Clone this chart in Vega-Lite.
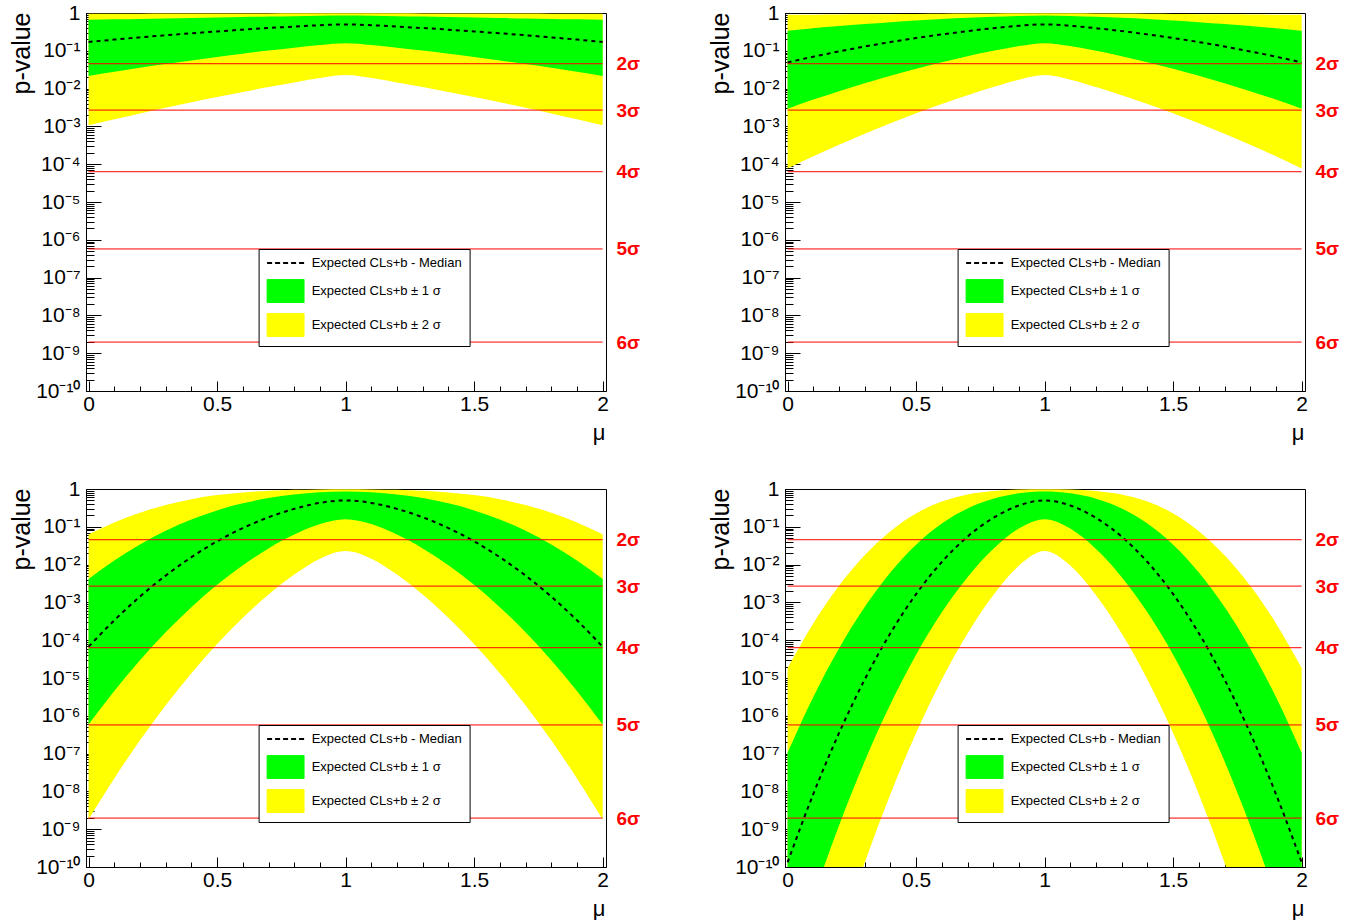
{
  "$schema": "https://vega.github.io/schema/vega-lite/v6.json",
  "background": "white",
  "padding": {"left": 8, "top": 1, "right": 0, "bottom": 0},
  "datasets": {
    "bands": [
      {"panel":1,"mu":0.0,"lo2":0.001065,"lo1":0.0217,"med":0.1711,"hi1":0.666,"hi2":0.9615},
      {"panel":1,"mu":0.1,"lo2":0.00154,"lo1":0.0278,"med":0.1976,"hi1":0.681,"hi2":0.961},
      {"panel":1,"mu":0.2,"lo2":0.0022,"lo1":0.0354,"med":0.2265,"hi1":0.699,"hi2":0.962},
      {"panel":1,"mu":0.3,"lo2":0.00311,"lo1":0.0446,"med":0.2576,"hi1":0.717,"hi2":0.963},
      {"panel":1,"mu":0.4,"lo2":0.00434,"lo1":0.0555,"med":0.2907,"hi1":0.737,"hi2":0.965},
      {"panel":1,"mu":0.5,"lo2":0.00599,"lo1":0.0686,"med":0.3256,"hi1":0.759,"hi2":0.968},
      {"panel":1,"mu":0.6,"lo2":0.00817,"lo1":0.0838,"med":0.3622,"hi1":0.78,"hi2":0.972},
      {"panel":1,"mu":0.7,"lo2":0.011,"lo1":0.1014,"med":0.3998,"hi1":0.803,"hi2":0.975},
      {"panel":1,"mu":0.8,"lo2":0.01461,"lo1":0.1212,"med":0.4379,"hi1":0.825,"hi2":0.979},
      {"panel":1,"mu":0.9,"lo2":0.019,"lo1":0.1429,"med":0.4754,"hi1":0.846,"hi2":0.983},
      {"panel":1,"mu":1.0,"lo2":0.02275,"lo1":0.1587,"med":0.5,"hi1":0.86,"hi2":0.985},
      {"panel":1,"mu":1.1,"lo2":0.019,"lo1":0.1429,"med":0.4754,"hi1":0.846,"hi2":0.983},
      {"panel":1,"mu":1.2,"lo2":0.01461,"lo1":0.1212,"med":0.4379,"hi1":0.825,"hi2":0.979},
      {"panel":1,"mu":1.3,"lo2":0.011,"lo1":0.1014,"med":0.3998,"hi1":0.803,"hi2":0.975},
      {"panel":1,"mu":1.4,"lo2":0.00817,"lo1":0.0838,"med":0.3622,"hi1":0.78,"hi2":0.972},
      {"panel":1,"mu":1.5,"lo2":0.00599,"lo1":0.0686,"med":0.3256,"hi1":0.759,"hi2":0.968},
      {"panel":1,"mu":1.6,"lo2":0.00434,"lo1":0.0555,"med":0.2907,"hi1":0.737,"hi2":0.965},
      {"panel":1,"mu":1.7,"lo2":0.00311,"lo1":0.0446,"med":0.2576,"hi1":0.717,"hi2":0.963},
      {"panel":1,"mu":1.8,"lo2":0.0022,"lo1":0.0354,"med":0.2265,"hi1":0.699,"hi2":0.962},
      {"panel":1,"mu":1.9,"lo2":0.00154,"lo1":0.0278,"med":0.1976,"hi1":0.681,"hi2":0.961},
      {"panel":1,"mu":2.0,"lo2":0.001065,"lo1":0.0217,"med":0.1711,"hi1":0.666,"hi2":0.9615},

      {"panel":2,"mu":0.0,"lo2":7.74e-5,"lo1":0.00295,"med":0.0494,"hi1":0.3399,"hi2":0.8972},
      {"panel":2,"mu":0.1,"lo2":1.62e-4,"lo1":0.00511,"med":0.0699,"hi1":0.3942,"hi2":0.9031},
      {"panel":2,"mu":0.2,"lo2":3.28e-4,"lo1":0.00857,"med":0.0962,"hi1":0.4518,"hi2":0.9106},
      {"panel":2,"mu":0.3,"lo2":6.4e-4,"lo1":0.01391,"med":0.1297,"hi1":0.5117,"hi2":0.9204},
      {"panel":2,"mu":0.4,"lo2":0.00121,"lo1":0.022,"med":0.1702,"hi1":0.5725,"hi2":0.9311},
      {"panel":2,"mu":0.5,"lo2":0.00222,"lo1":0.0337,"med":0.2177,"hi1":0.6326,"hi2":0.9424},
      {"panel":2,"mu":0.6,"lo2":0.00391,"lo1":0.05,"med":0.272,"hi1":0.691,"hi2":0.9537},
      {"panel":2,"mu":0.7,"lo2":0.00669,"lo1":0.0718,"med":0.3322,"hi1":0.7451,"hi2":0.9643},
      {"panel":2,"mu":0.8,"lo2":0.011,"lo1":0.0997,"med":0.396,"hi1":0.7943,"hi2":0.9734},
      {"panel":2,"mu":0.9,"lo2":0.01722,"lo1":0.1333,"med":0.4595,"hi1":0.8365,"hi2":0.981},
      {"panel":2,"mu":1.0,"lo2":0.02275,"lo1":0.1587,"med":0.5,"hi1":0.86,"hi2":0.985},
      {"panel":2,"mu":1.1,"lo2":0.01722,"lo1":0.1333,"med":0.4595,"hi1":0.8365,"hi2":0.981},
      {"panel":2,"mu":1.2,"lo2":0.011,"lo1":0.0997,"med":0.396,"hi1":0.7943,"hi2":0.9734},
      {"panel":2,"mu":1.3,"lo2":0.00669,"lo1":0.0718,"med":0.3322,"hi1":0.7451,"hi2":0.9643},
      {"panel":2,"mu":1.4,"lo2":0.00391,"lo1":0.05,"med":0.272,"hi1":0.691,"hi2":0.9537},
      {"panel":2,"mu":1.5,"lo2":0.00222,"lo1":0.0337,"med":0.2177,"hi1":0.6326,"hi2":0.9424},
      {"panel":2,"mu":1.6,"lo2":0.00121,"lo1":0.022,"med":0.1702,"hi1":0.5725,"hi2":0.9311},
      {"panel":2,"mu":1.7,"lo2":6.4e-4,"lo1":0.01391,"med":0.1297,"hi1":0.5117,"hi2":0.9204},
      {"panel":2,"mu":1.8,"lo2":3.28e-4,"lo1":0.00857,"med":0.0962,"hi1":0.4518,"hi2":0.9106},
      {"panel":2,"mu":1.9,"lo2":1.62e-4,"lo1":0.00511,"med":0.0699,"hi1":0.3942,"hi2":0.9031},
      {"panel":2,"mu":2.0,"lo2":7.74e-5,"lo1":0.00295,"med":0.0494,"hi1":0.3399,"hi2":0.8972},

      {"panel":3,"mu":0.0,"lo2":1.82e-9,"lo1":5.89e-7,"med":6.69e-5,"hi1":0.00415,"hi2":0.0633},
      {"panel":3,"mu":0.1,"lo2":2.21e-8,"lo1":4.55e-6,"med":3.36e-4,"hi1":0.01282,"hi2":0.1309},
      {"panel":3,"mu":0.2,"lo2":2.24e-7,"lo1":2.96e-5,"med":0.001424,"hi1":0.0342,"hi2":0.2367},
      {"panel":3,"mu":0.3,"lo2":1.89e-6,"lo1":1.62e-4,"med":0.00512,"hi1":0.0784,"hi2":0.3772},
      {"panel":3,"mu":0.4,"lo2":1.33e-5,"lo1":7.47e-4,"med":0.01569,"hi1":0.156,"hi2":0.536},
      {"panel":3,"mu":0.5,"lo2":7.9e-5,"lo1":0.00291,"med":0.0413,"hi1":0.2718,"hi2":0.6887},
      {"panel":3,"mu":0.6,"lo2":3.91e-4,"lo1":0.00955,"med":0.0925,"hi1":0.418,"hi2":0.8134},
      {"panel":3,"mu":0.7,"lo2":0.00161,"lo1":0.0267,"med":0.1785,"hi1":0.5746,"hi2":0.9003},
      {"panel":3,"mu":0.8,"lo2":0.00544,"lo1":0.0622,"med":0.2981,"hi1":0.7153,"hi2":0.9517},
      {"panel":3,"mu":0.9,"lo2":0.01432,"lo1":0.1184,"med":0.4286,"hi1":0.8184,"hi2":0.9774},
      {"panel":3,"mu":1.0,"lo2":0.02275,"lo1":0.1587,"med":0.5,"hi1":0.86,"hi2":0.985},
      {"panel":3,"mu":1.1,"lo2":0.01432,"lo1":0.1184,"med":0.4286,"hi1":0.8184,"hi2":0.9774},
      {"panel":3,"mu":1.2,"lo2":0.00544,"lo1":0.0622,"med":0.2981,"hi1":0.7153,"hi2":0.9517},
      {"panel":3,"mu":1.3,"lo2":0.00161,"lo1":0.0267,"med":0.1785,"hi1":0.5746,"hi2":0.9003},
      {"panel":3,"mu":1.4,"lo2":3.91e-4,"lo1":0.00955,"med":0.0925,"hi1":0.418,"hi2":0.8134},
      {"panel":3,"mu":1.5,"lo2":7.9e-5,"lo1":0.00291,"med":0.0413,"hi1":0.2718,"hi2":0.6887},
      {"panel":3,"mu":1.6,"lo2":1.33e-5,"lo1":7.47e-4,"med":0.01569,"hi1":0.156,"hi2":0.536},
      {"panel":3,"mu":1.7,"lo2":1.89e-6,"lo1":1.62e-4,"med":0.00512,"hi1":0.0784,"hi2":0.3772},
      {"panel":3,"mu":1.8,"lo2":2.24e-7,"lo1":2.96e-5,"med":0.001424,"hi1":0.0342,"hi2":0.2367},
      {"panel":3,"mu":1.9,"lo2":2.21e-8,"lo1":4.55e-6,"med":3.36e-4,"hi1":0.01282,"hi2":0.1309},
      {"panel":3,"mu":2.0,"lo2":1.82e-9,"lo1":5.89e-7,"med":6.69e-5,"hi1":0.00415,"hi2":0.0633},

      {"panel":4,"mu":0.0,"lo2":3e-17,"lo1":1.25e-13,"med":1.32e-10,"hi1":1.06e-7,"hi2":1.83e-5},
      {"panel":4,"mu":0.1,"lo2":7e-15,"lo1":1.56e-11,"med":8.47e-9,"hi1":3.16e-6,"hi2":2.78e-4},
      {"panel":4,"mu":0.2,"lo2":1.25e-12,"lo1":1.24e-9,"med":3.47e-7,"hi1":6.07e-5,"hi2":0.002746},
      {"panel":4,"mu":0.3,"lo2":1.3e-10,"lo1":6.24e-8,"med":9.08e-6,"hi1":7.58e-4,"hi2":0.01776},
      {"panel":4,"mu":0.4,"lo2":8.46e-9,"lo1":2.01e-6,"med":1.53e-4,"hi1":0.0062,"hi2":0.0768},
      {"panel":4,"mu":0.5,"lo2":3.49e-7,"lo1":4.13e-5,"med":0.00166,"hi1":0.0336,"hi2":0.225},
      {"panel":4,"mu":0.6,"lo2":9.1e-6,"lo1":5.45e-4,"med":0.01172,"hi1":0.1222,"hi2":0.4651},
      {"panel":4,"mu":0.7,"lo2":1.5e-4,"lo1":0.00466,"med":0.0548,"hi1":0.3067,"hi2":0.7174},
      {"panel":4,"mu":0.8,"lo2":0.001543,"lo1":0.0258,"med":0.1717,"hi1":0.5561,"hi2":0.8895},
      {"panel":4,"mu":0.9,"lo2":0.0094,"lo1":0.0898,"med":0.3656,"hi1":0.7703,"hi2":0.9661},
      {"panel":4,"mu":1.0,"lo2":0.02275,"lo1":0.1587,"med":0.5,"hi1":0.86,"hi2":0.985},
      {"panel":4,"mu":1.1,"lo2":0.0094,"lo1":0.0898,"med":0.3656,"hi1":0.7703,"hi2":0.9661},
      {"panel":4,"mu":1.2,"lo2":0.001543,"lo1":0.0258,"med":0.1717,"hi1":0.5561,"hi2":0.8895},
      {"panel":4,"mu":1.3,"lo2":1.5e-4,"lo1":0.00466,"med":0.0548,"hi1":0.3067,"hi2":0.7174},
      {"panel":4,"mu":1.4,"lo2":9.1e-6,"lo1":5.45e-4,"med":0.01172,"hi1":0.1222,"hi2":0.4651},
      {"panel":4,"mu":1.5,"lo2":3.49e-7,"lo1":4.13e-5,"med":0.00166,"hi1":0.0336,"hi2":0.225},
      {"panel":4,"mu":1.6,"lo2":8.46e-9,"lo1":2.01e-6,"med":1.53e-4,"hi1":0.0062,"hi2":0.0768},
      {"panel":4,"mu":1.7,"lo2":1.3e-10,"lo1":6.24e-8,"med":9.08e-6,"hi1":7.58e-4,"hi2":0.01776},
      {"panel":4,"mu":1.8,"lo2":1.25e-12,"lo1":1.24e-9,"med":3.47e-7,"hi1":6.07e-5,"hi2":0.002746},
      {"panel":4,"mu":1.9,"lo2":7e-15,"lo1":1.56e-11,"med":8.47e-9,"hi1":3.16e-6,"hi2":2.78e-4},
      {"panel":4,"mu":2.0,"lo2":3e-17,"lo1":1.25e-13,"med":1.32e-10,"hi1":1.06e-7,"hi2":1.83e-5}
    ],
    "sig": [
      {"p": 0.0455},
      {"p": 0.0027},
      {"p": 6.33e-5},
      {"p": 5.73e-7},
      {"p": 1.97e-9}
    ]
  },
  "columns": 2,
  "spacing": {"row": 98, "column": 179},
  "bounds": "flush",
  "concat": [
    {
      "width": 520, "height": 378,
      "layer": [
        {
          "data": {"name": "bands"},
          "transform": [{"filter": "datum.panel == 1"}],
          "mark": {"type": "area", "interpolate": "monotone", "clip": true},
          "encoding": {
            "x": {"field": "mu", "type": "quantitative", "scale": {"domain": [-0.01, 2.013], "nice": false, "zero": false},
                  "axis": {"orient": "bottom", "values": [0, 0.5, 1, 1.5, 2], "format": "~g", "tickSize": -10, "labelFontSize": 21, "labelPadding": 12, "title": "μ", "titleFontSize": 22, "titleX": 519, "titleY": 48, "titleAlign": "right", "titleAnchor": "end", "titleBaseline": "alphabetic"}},
            "y": {"field": "lo2", "type": "quantitative", "scale": {"type": "log", "domain": [1e-10, 1], "nice": false},
                  "axis": {"orient": "left", "values": [1e-10, 1e-9, 1e-8, 1e-7, 1e-6, 1e-5, 1e-4, 0.001, 0.01, 0.1, 1], "labelExpr": "['10⁻¹⁰','10⁻⁹','10⁻⁸','10⁻⁷','10⁻⁶','10⁻⁵','10⁻⁴','10⁻³','10⁻²','10⁻¹','1'][round(log(datum.value)/LN10)+10]", "tickSize": -15, "labelFontSize": 21, "labelPadding": 21, "labelAlign": "right", "labelBaseline": "middle", "title": "p-value", "titleFontSize": 25, "titleAnchor": "end", "titleAlign": "right", "titleAngle": 270, "titleBaseline": "alphabetic", "titleX": -57, "titleY": -1}},
            "y2": {"field": "hi2"},
            "color": {"datum": "Expected CLs+b ± 2 σ", "type": "nominal",
                      "scale": {"domain": ["Expected CLs+b - Median", "Expected CLs+b ± 1 σ", "Expected CLs+b ± 2 σ"], "range": ["#000000", "#00ff00", "#ffff00"]},
                      "legend": {"title": null, "encode": {"symbols": {"update": {
                        "shape": {"signal": "datum.value == 'Expected CLs+b - Median' ? 'M-1,0H1' : 'M-1,-0.62H1V0.62H-1Z'"},
                        "fill": {"signal": "datum.value == 'Expected CLs+b ± 1 σ' ? '#00ff00' : datum.value == 'Expected CLs+b ± 2 σ' ? '#ffff00' : 'transparent'"},
                        "stroke": {"value": "#000000"},
                        "strokeDash": {"signal": "datum.value == 'Expected CLs+b - Median' ? [5,3] : [1,0]"},
                        "strokeWidth": {"signal": "datum.value == 'Expected CLs+b - Median' ? 2 : 1"},
                        "opacity": {"value": 1},
                        "fillOpacity": {"value": 1}}}}}}
          }
        },
        {
          "data": {"name": "bands"},
          "transform": [{"filter": "datum.panel == 1"}],
          "mark": {"type": "area", "interpolate": "monotone", "clip": true},
          "encoding": {
            "x": {"field": "mu", "type": "quantitative",
                  "axis": {"orient": "bottom", "values": [0.1,0.2,0.3,0.4,0.6,0.7,0.8,0.9,1.1,1.2,1.3,1.4,1.6,1.7,1.8,1.9], "labels": false, "tickSize": -5, "domain": false, "title": null}},
            "y": {"field": "lo1", "type": "quantitative",
                  "axis": {"orient": "left", "values": [2e-10,3e-10,4e-10,5e-10,6e-10,7e-10,8e-10,9e-10,2e-9,3e-9,4e-9,5e-9,6e-9,7e-9,8e-9,9e-9,2e-8,3e-8,4e-8,5e-8,6e-8,7e-8,8e-8,9e-8,2e-7,3e-7,4e-7,5e-7,6e-7,7e-7,8e-7,9e-7,2e-6,3e-6,4e-6,5e-6,6e-6,7e-6,8e-6,9e-6,2e-5,3e-5,4e-5,5e-5,6e-5,7e-5,8e-5,9e-5,2e-4,3e-4,4e-4,5e-4,6e-4,7e-4,8e-4,9e-4,0.002,0.003,0.004,0.005,0.006,0.007,0.008,0.009,0.02,0.03,0.04,0.05,0.06,0.07,0.08,0.09,0.2,0.3,0.4,0.5,0.6,0.7,0.8,0.9], "labels": false, "tickSize": -8, "domain": false, "title": null}},
            "y2": {"field": "hi1"},
            "color": {"datum": "Expected CLs+b ± 1 σ", "type": "nominal"}
          }
        },
        {
          "data": {"name": "bands"},
          "transform": [{"filter": "datum.panel == 1"}],
          "mark": {"type": "line", "interpolate": "monotone", "clip": true, "strokeDash": [4, 4], "strokeWidth": 2},
          "encoding": {
            "x": {"field": "mu", "type": "quantitative", "axis": null},
            "y": {"field": "med", "type": "quantitative", "axis": null},
            "color": {"datum": "Expected CLs+b - Median", "type": "nominal"}
          }
        },
        {
          "data": {"name": "sig"},
          "mark": {"type": "rule", "color": "#ff0000", "strokeWidth": 1},
          "encoding": {
            "x": {"datum": 0, "type": "quantitative", "axis": null},
            "x2": {"datum": 2},
            "y": {"field": "p", "type": "quantitative",
                  "axis": {"orient": "right", "values": [0.0455, 0.0027, 6.33e-5, 5.73e-7, 1.97e-9], "labelExpr": "datum.value > 0.01 ? '2σ' : datum.value > 0.001 ? '3σ' : datum.value > 1e-5 ? '4σ' : datum.value > 1e-8 ? '5σ' : '6σ'", "ticks": false, "domain": false, "labelColor": "#ff0000", "labelFontSize": 19, "labelFontWeight": "bold", "labelPadding": 10, "labelAlign": "left", "labelBaseline": "middle", "title": null}}
          }
        }
      ],
      "resolve": {"axis": {"x": "independent", "y": "independent"}}
    },
    {
      "width": 520, "height": 378,
      "layer": [
        {
          "data": {"name": "bands"},
          "transform": [{"filter": "datum.panel == 2"}],
          "mark": {"type": "area", "interpolate": "monotone", "clip": true},
          "encoding": {
            "x": {"field": "mu", "type": "quantitative", "scale": {"domain": [-0.01, 2.013], "nice": false, "zero": false},
                  "axis": {"orient": "bottom", "values": [0, 0.5, 1, 1.5, 2], "format": "~g", "tickSize": -10, "labelFontSize": 21, "labelPadding": 12, "title": "μ", "titleFontSize": 22, "titleX": 519, "titleY": 48, "titleAlign": "right", "titleAnchor": "end", "titleBaseline": "alphabetic"}},
            "y": {"field": "lo2", "type": "quantitative", "scale": {"type": "log", "domain": [1e-10, 1], "nice": false},
                  "axis": {"orient": "left", "values": [1e-10, 1e-9, 1e-8, 1e-7, 1e-6, 1e-5, 1e-4, 0.001, 0.01, 0.1, 1], "labelExpr": "['10⁻¹⁰','10⁻⁹','10⁻⁸','10⁻⁷','10⁻⁶','10⁻⁵','10⁻⁴','10⁻³','10⁻²','10⁻¹','1'][round(log(datum.value)/LN10)+10]", "tickSize": -15, "labelFontSize": 21, "labelPadding": 21, "labelAlign": "right", "labelBaseline": "middle", "title": "p-value", "titleFontSize": 25, "titleAnchor": "end", "titleAlign": "right", "titleAngle": 270, "titleBaseline": "alphabetic", "titleX": -57, "titleY": -1}},
            "y2": {"field": "hi2"},
            "color": {"datum": "Expected CLs+b ± 2 σ", "type": "nominal",
                      "scale": {"domain": ["Expected CLs+b - Median", "Expected CLs+b ± 1 σ", "Expected CLs+b ± 2 σ"], "range": ["#000000", "#00ff00", "#ffff00"]},
                      "legend": {"title": null, "encode": {"symbols": {"update": {
                        "shape": {"signal": "datum.value == 'Expected CLs+b - Median' ? 'M-1,0H1' : 'M-1,-0.62H1V0.62H-1Z'"},
                        "fill": {"signal": "datum.value == 'Expected CLs+b ± 1 σ' ? '#00ff00' : datum.value == 'Expected CLs+b ± 2 σ' ? '#ffff00' : 'transparent'"},
                        "stroke": {"value": "#000000"},
                        "strokeDash": {"signal": "datum.value == 'Expected CLs+b - Median' ? [5,3] : [1,0]"},
                        "strokeWidth": {"signal": "datum.value == 'Expected CLs+b - Median' ? 2 : 1"},
                        "opacity": {"value": 1},
                        "fillOpacity": {"value": 1}}}}}}
          }
        },
        {
          "data": {"name": "bands"},
          "transform": [{"filter": "datum.panel == 2"}],
          "mark": {"type": "area", "interpolate": "monotone", "clip": true},
          "encoding": {
            "x": {"field": "mu", "type": "quantitative",
                  "axis": {"orient": "bottom", "values": [0.1,0.2,0.3,0.4,0.6,0.7,0.8,0.9,1.1,1.2,1.3,1.4,1.6,1.7,1.8,1.9], "labels": false, "tickSize": -5, "domain": false, "title": null}},
            "y": {"field": "lo1", "type": "quantitative",
                  "axis": {"orient": "left", "values": [2e-10,3e-10,4e-10,5e-10,6e-10,7e-10,8e-10,9e-10,2e-9,3e-9,4e-9,5e-9,6e-9,7e-9,8e-9,9e-9,2e-8,3e-8,4e-8,5e-8,6e-8,7e-8,8e-8,9e-8,2e-7,3e-7,4e-7,5e-7,6e-7,7e-7,8e-7,9e-7,2e-6,3e-6,4e-6,5e-6,6e-6,7e-6,8e-6,9e-6,2e-5,3e-5,4e-5,5e-5,6e-5,7e-5,8e-5,9e-5,2e-4,3e-4,4e-4,5e-4,6e-4,7e-4,8e-4,9e-4,0.002,0.003,0.004,0.005,0.006,0.007,0.008,0.009,0.02,0.03,0.04,0.05,0.06,0.07,0.08,0.09,0.2,0.3,0.4,0.5,0.6,0.7,0.8,0.9], "labels": false, "tickSize": -8, "domain": false, "title": null}},
            "y2": {"field": "hi1"},
            "color": {"datum": "Expected CLs+b ± 1 σ", "type": "nominal"}
          }
        },
        {
          "data": {"name": "bands"},
          "transform": [{"filter": "datum.panel == 2"}],
          "mark": {"type": "line", "interpolate": "monotone", "clip": true, "strokeDash": [4, 4], "strokeWidth": 2},
          "encoding": {
            "x": {"field": "mu", "type": "quantitative", "axis": null},
            "y": {"field": "med", "type": "quantitative", "axis": null},
            "color": {"datum": "Expected CLs+b - Median", "type": "nominal"}
          }
        },
        {
          "data": {"name": "sig"},
          "mark": {"type": "rule", "color": "#ff0000", "strokeWidth": 1},
          "encoding": {
            "x": {"datum": 0, "type": "quantitative", "axis": null},
            "x2": {"datum": 2},
            "y": {"field": "p", "type": "quantitative",
                  "axis": {"orient": "right", "values": [0.0455, 0.0027, 6.33e-5, 5.73e-7, 1.97e-9], "labelExpr": "datum.value > 0.01 ? '2σ' : datum.value > 0.001 ? '3σ' : datum.value > 1e-5 ? '4σ' : datum.value > 1e-8 ? '5σ' : '6σ'", "ticks": false, "domain": false, "labelColor": "#ff0000", "labelFontSize": 19, "labelFontWeight": "bold", "labelPadding": 10, "labelAlign": "left", "labelBaseline": "middle", "title": null}}
          }
        }
      ],
      "resolve": {"axis": {"x": "independent", "y": "independent"}}
    },
    {
      "width": 520, "height": 378,
      "layer": [
        {
          "data": {"name": "bands"},
          "transform": [{"filter": "datum.panel == 3"}],
          "mark": {"type": "area", "interpolate": "monotone", "clip": true},
          "encoding": {
            "x": {"field": "mu", "type": "quantitative", "scale": {"domain": [-0.01, 2.013], "nice": false, "zero": false},
                  "axis": {"orient": "bottom", "values": [0, 0.5, 1, 1.5, 2], "format": "~g", "tickSize": -10, "labelFontSize": 21, "labelPadding": 12, "title": "μ", "titleFontSize": 22, "titleX": 519, "titleY": 48, "titleAlign": "right", "titleAnchor": "end", "titleBaseline": "alphabetic"}},
            "y": {"field": "lo2", "type": "quantitative", "scale": {"type": "log", "domain": [1e-10, 1], "nice": false},
                  "axis": {"orient": "left", "values": [1e-10, 1e-9, 1e-8, 1e-7, 1e-6, 1e-5, 1e-4, 0.001, 0.01, 0.1, 1], "labelExpr": "['10⁻¹⁰','10⁻⁹','10⁻⁸','10⁻⁷','10⁻⁶','10⁻⁵','10⁻⁴','10⁻³','10⁻²','10⁻¹','1'][round(log(datum.value)/LN10)+10]", "tickSize": -15, "labelFontSize": 21, "labelPadding": 21, "labelAlign": "right", "labelBaseline": "middle", "title": "p-value", "titleFontSize": 25, "titleAnchor": "end", "titleAlign": "right", "titleAngle": 270, "titleBaseline": "alphabetic", "titleX": -57, "titleY": -1}},
            "y2": {"field": "hi2"},
            "color": {"datum": "Expected CLs+b ± 2 σ", "type": "nominal",
                      "scale": {"domain": ["Expected CLs+b - Median", "Expected CLs+b ± 1 σ", "Expected CLs+b ± 2 σ"], "range": ["#000000", "#00ff00", "#ffff00"]},
                      "legend": {"title": null, "encode": {"symbols": {"update": {
                        "shape": {"signal": "datum.value == 'Expected CLs+b - Median' ? 'M-1,0H1' : 'M-1,-0.62H1V0.62H-1Z'"},
                        "fill": {"signal": "datum.value == 'Expected CLs+b ± 1 σ' ? '#00ff00' : datum.value == 'Expected CLs+b ± 2 σ' ? '#ffff00' : 'transparent'"},
                        "stroke": {"value": "#000000"},
                        "strokeDash": {"signal": "datum.value == 'Expected CLs+b - Median' ? [5,3] : [1,0]"},
                        "strokeWidth": {"signal": "datum.value == 'Expected CLs+b - Median' ? 2 : 1"},
                        "opacity": {"value": 1},
                        "fillOpacity": {"value": 1}}}}}}
          }
        },
        {
          "data": {"name": "bands"},
          "transform": [{"filter": "datum.panel == 3"}],
          "mark": {"type": "area", "interpolate": "monotone", "clip": true},
          "encoding": {
            "x": {"field": "mu", "type": "quantitative",
                  "axis": {"orient": "bottom", "values": [0.1,0.2,0.3,0.4,0.6,0.7,0.8,0.9,1.1,1.2,1.3,1.4,1.6,1.7,1.8,1.9], "labels": false, "tickSize": -5, "domain": false, "title": null}},
            "y": {"field": "lo1", "type": "quantitative",
                  "axis": {"orient": "left", "values": [2e-10,3e-10,4e-10,5e-10,6e-10,7e-10,8e-10,9e-10,2e-9,3e-9,4e-9,5e-9,6e-9,7e-9,8e-9,9e-9,2e-8,3e-8,4e-8,5e-8,6e-8,7e-8,8e-8,9e-8,2e-7,3e-7,4e-7,5e-7,6e-7,7e-7,8e-7,9e-7,2e-6,3e-6,4e-6,5e-6,6e-6,7e-6,8e-6,9e-6,2e-5,3e-5,4e-5,5e-5,6e-5,7e-5,8e-5,9e-5,2e-4,3e-4,4e-4,5e-4,6e-4,7e-4,8e-4,9e-4,0.002,0.003,0.004,0.005,0.006,0.007,0.008,0.009,0.02,0.03,0.04,0.05,0.06,0.07,0.08,0.09,0.2,0.3,0.4,0.5,0.6,0.7,0.8,0.9], "labels": false, "tickSize": -8, "domain": false, "title": null}},
            "y2": {"field": "hi1"},
            "color": {"datum": "Expected CLs+b ± 1 σ", "type": "nominal"}
          }
        },
        {
          "data": {"name": "bands"},
          "transform": [{"filter": "datum.panel == 3"}],
          "mark": {"type": "line", "interpolate": "monotone", "clip": true, "strokeDash": [4, 4], "strokeWidth": 2},
          "encoding": {
            "x": {"field": "mu", "type": "quantitative", "axis": null},
            "y": {"field": "med", "type": "quantitative", "axis": null},
            "color": {"datum": "Expected CLs+b - Median", "type": "nominal"}
          }
        },
        {
          "data": {"name": "sig"},
          "mark": {"type": "rule", "color": "#ff0000", "strokeWidth": 1},
          "encoding": {
            "x": {"datum": 0, "type": "quantitative", "axis": null},
            "x2": {"datum": 2},
            "y": {"field": "p", "type": "quantitative",
                  "axis": {"orient": "right", "values": [0.0455, 0.0027, 6.33e-5, 5.73e-7, 1.97e-9], "labelExpr": "datum.value > 0.01 ? '2σ' : datum.value > 0.001 ? '3σ' : datum.value > 1e-5 ? '4σ' : datum.value > 1e-8 ? '5σ' : '6σ'", "ticks": false, "domain": false, "labelColor": "#ff0000", "labelFontSize": 19, "labelFontWeight": "bold", "labelPadding": 10, "labelAlign": "left", "labelBaseline": "middle", "title": null}}
          }
        }
      ],
      "resolve": {"axis": {"x": "independent", "y": "independent"}}
    },
    {
      "width": 520, "height": 378,
      "layer": [
        {
          "data": {"name": "bands"},
          "transform": [{"filter": "datum.panel == 4"}],
          "mark": {"type": "area", "interpolate": "monotone", "clip": true},
          "encoding": {
            "x": {"field": "mu", "type": "quantitative", "scale": {"domain": [-0.01, 2.013], "nice": false, "zero": false},
                  "axis": {"orient": "bottom", "values": [0, 0.5, 1, 1.5, 2], "format": "~g", "tickSize": -10, "labelFontSize": 21, "labelPadding": 12, "title": "μ", "titleFontSize": 22, "titleX": 519, "titleY": 48, "titleAlign": "right", "titleAnchor": "end", "titleBaseline": "alphabetic"}},
            "y": {"field": "lo2", "type": "quantitative", "scale": {"type": "log", "domain": [1e-10, 1], "nice": false},
                  "axis": {"orient": "left", "values": [1e-10, 1e-9, 1e-8, 1e-7, 1e-6, 1e-5, 1e-4, 0.001, 0.01, 0.1, 1], "labelExpr": "['10⁻¹⁰','10⁻⁹','10⁻⁸','10⁻⁷','10⁻⁶','10⁻⁵','10⁻⁴','10⁻³','10⁻²','10⁻¹','1'][round(log(datum.value)/LN10)+10]", "tickSize": -15, "labelFontSize": 21, "labelPadding": 21, "labelAlign": "right", "labelBaseline": "middle", "title": "p-value", "titleFontSize": 25, "titleAnchor": "end", "titleAlign": "right", "titleAngle": 270, "titleBaseline": "alphabetic", "titleX": -57, "titleY": -1}},
            "y2": {"field": "hi2"},
            "color": {"datum": "Expected CLs+b ± 2 σ", "type": "nominal",
                      "scale": {"domain": ["Expected CLs+b - Median", "Expected CLs+b ± 1 σ", "Expected CLs+b ± 2 σ"], "range": ["#000000", "#00ff00", "#ffff00"]},
                      "legend": {"title": null, "encode": {"symbols": {"update": {
                        "shape": {"signal": "datum.value == 'Expected CLs+b - Median' ? 'M-1,0H1' : 'M-1,-0.62H1V0.62H-1Z'"},
                        "fill": {"signal": "datum.value == 'Expected CLs+b ± 1 σ' ? '#00ff00' : datum.value == 'Expected CLs+b ± 2 σ' ? '#ffff00' : 'transparent'"},
                        "stroke": {"value": "#000000"},
                        "strokeDash": {"signal": "datum.value == 'Expected CLs+b - Median' ? [5,3] : [1,0]"},
                        "strokeWidth": {"signal": "datum.value == 'Expected CLs+b - Median' ? 2 : 1"},
                        "opacity": {"value": 1},
                        "fillOpacity": {"value": 1}}}}}}
          }
        },
        {
          "data": {"name": "bands"},
          "transform": [{"filter": "datum.panel == 4"}],
          "mark": {"type": "area", "interpolate": "monotone", "clip": true},
          "encoding": {
            "x": {"field": "mu", "type": "quantitative",
                  "axis": {"orient": "bottom", "values": [0.1,0.2,0.3,0.4,0.6,0.7,0.8,0.9,1.1,1.2,1.3,1.4,1.6,1.7,1.8,1.9], "labels": false, "tickSize": -5, "domain": false, "title": null}},
            "y": {"field": "lo1", "type": "quantitative",
                  "axis": {"orient": "left", "values": [2e-10,3e-10,4e-10,5e-10,6e-10,7e-10,8e-10,9e-10,2e-9,3e-9,4e-9,5e-9,6e-9,7e-9,8e-9,9e-9,2e-8,3e-8,4e-8,5e-8,6e-8,7e-8,8e-8,9e-8,2e-7,3e-7,4e-7,5e-7,6e-7,7e-7,8e-7,9e-7,2e-6,3e-6,4e-6,5e-6,6e-6,7e-6,8e-6,9e-6,2e-5,3e-5,4e-5,5e-5,6e-5,7e-5,8e-5,9e-5,2e-4,3e-4,4e-4,5e-4,6e-4,7e-4,8e-4,9e-4,0.002,0.003,0.004,0.005,0.006,0.007,0.008,0.009,0.02,0.03,0.04,0.05,0.06,0.07,0.08,0.09,0.2,0.3,0.4,0.5,0.6,0.7,0.8,0.9], "labels": false, "tickSize": -8, "domain": false, "title": null}},
            "y2": {"field": "hi1"},
            "color": {"datum": "Expected CLs+b ± 1 σ", "type": "nominal"}
          }
        },
        {
          "data": {"name": "bands"},
          "transform": [{"filter": "datum.panel == 4"}],
          "mark": {"type": "line", "interpolate": "monotone", "clip": true, "strokeDash": [4, 4], "strokeWidth": 2},
          "encoding": {
            "x": {"field": "mu", "type": "quantitative", "axis": null},
            "y": {"field": "med", "type": "quantitative", "axis": null},
            "color": {"datum": "Expected CLs+b - Median", "type": "nominal"}
          }
        },
        {
          "data": {"name": "sig"},
          "mark": {"type": "rule", "color": "#ff0000", "strokeWidth": 1},
          "encoding": {
            "x": {"datum": 0, "type": "quantitative", "axis": null},
            "x2": {"datum": 2},
            "y": {"field": "p", "type": "quantitative",
                  "axis": {"orient": "right", "values": [0.0455, 0.0027, 6.33e-5, 5.73e-7, 1.97e-9], "labelExpr": "datum.value > 0.01 ? '2σ' : datum.value > 0.001 ? '3σ' : datum.value > 1e-5 ? '4σ' : datum.value > 1e-8 ? '5σ' : '6σ'", "ticks": false, "domain": false, "labelColor": "#ff0000", "labelFontSize": 19, "labelFontWeight": "bold", "labelPadding": 10, "labelAlign": "left", "labelBaseline": "middle", "title": null}}
          }
        }
      ],
      "resolve": {"axis": {"x": "independent", "y": "independent"}}
    }
  ],
  "resolve": {
    "scale": {"x": "independent", "y": "independent", "color": "independent"},
    "axis": {"x": "independent", "y": "independent"},
    "legend": {"color": "independent"}
  },
  "config": {
    "font": "Liberation Sans",
    "view": {"stroke": "#000000", "strokeWidth": 1, "fill": "#ffffff"},
    "axis": {"grid": false, "domainColor": "#000000", "tickColor": "#000000", "labelColor": "#000000", "titleColor": "#000000", "labelFont": "Liberation Sans", "titleFont": "Liberation Sans", "titleFontWeight": "normal", "tickWidth": 1, "domainWidth": 1, "labelOverlap": false, "labelFlush": false},
    "legend": {"orient": "none", "legendX": 172.6, "legendY": 236, "padding": 7.5, "strokeColor": "#000000", "fillColor": "#ffffff", "labelFont": "Liberation Sans", "labelFontSize": 13, "labelColor": "#000000", "labelLimit": 400, "symbolSize": 1369, "symbolOffset": 13, "rowPadding": 7, "labelOffset": 19.6, "direction": "vertical"}
  }
}
